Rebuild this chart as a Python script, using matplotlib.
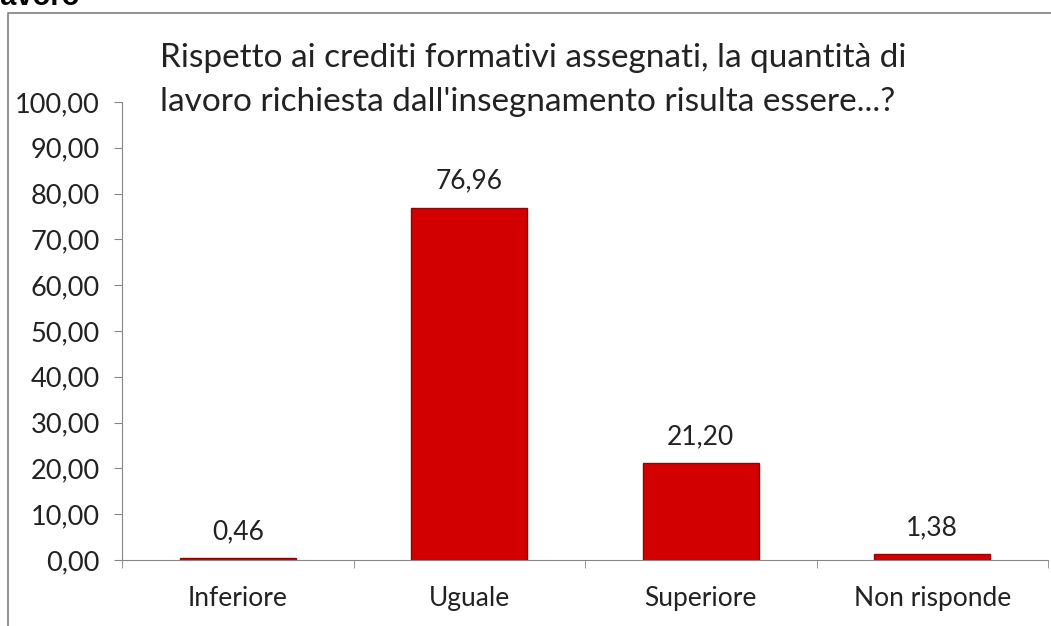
import matplotlib.pyplot as plt
from matplotlib.lines import Line2D

categorie = ['Inferiore', 'Uguale', 'Superiore', 'Non risponde']
percentuali = [0.46, 76.96, 21.20, 1.38]
etichette = ['0,46', '76,96', '21,20', '1,38']
titolo = "Rispetto ai crediti formativi assegnati, la quantità di\nlavoro richiesta dall'insegnamento risulta essere...?"

plt.rcParams['font.family'] = ['Lato', 'DejaVu Sans']

fig = plt.figure(figsize=(10.51, 6.26), dpi=100)
ax = fig.add_axes([122 / 1051, 1 - 560 / 626, 926 / 1051, 458 / 626])

x = range(len(categorie))
ax.bar(x, percentuali, width=0.5, color='#d20000', edgecolor='#9a0000', linewidth=1)

for i, v in enumerate(percentuali):
    ax.text(i, v + 3.0, etichette[i], ha='center', va='bottom', fontsize=19, color='#222222')

ax.set_xlim(-0.5, len(categorie) - 0.5)
ax.set_ylim(0, 100)
ax.set_yticks(range(0, 101, 10))
ax.set_yticklabels([f'{t},00' for t in range(0, 101, 10)], fontsize=19.5, color='#222222')
ax.set_xticks(list(x))
ax.set_xticklabels(categorie, fontsize=19, color='#222222')
ax.set_xticks([i - 0.5 for i in range(len(categorie) + 1)], minor=True)
ax.tick_params(axis='x', which='major', length=0, pad=19)
ax.tick_params(axis='x', which='minor', length=6, color='#868686', direction='out')
ax.tick_params(axis='y', length=6, color='#868686', pad=10)

for s in ['top', 'right']:
    ax.spines[s].set_visible(False)
ax.spines['left'].set_color('#868686')
ax.spines['bottom'].set_color('#868686')

fig.text(160 / 1051, 1 - 80 / 626, titolo, fontsize=24, color='#222222',
         ha='left', va='center', linespacing=1.6)

# bordo del riquadro e titolo tagliato in alto
fig.add_artist(Line2D([8 / 1051, 8 / 1051, 1], [0, 1 - 13 / 626, 1 - 13 / 626],
                      color='#7f7f7f', linewidth=1.2))
fig.text(-8 / 1051, 1 - 5 / 626, 'lavoro', fontsize=21, fontweight='bold',
         family='Liberation Sans', ha='left', va='baseline')

fig.savefig('out.png', dpi=100)
